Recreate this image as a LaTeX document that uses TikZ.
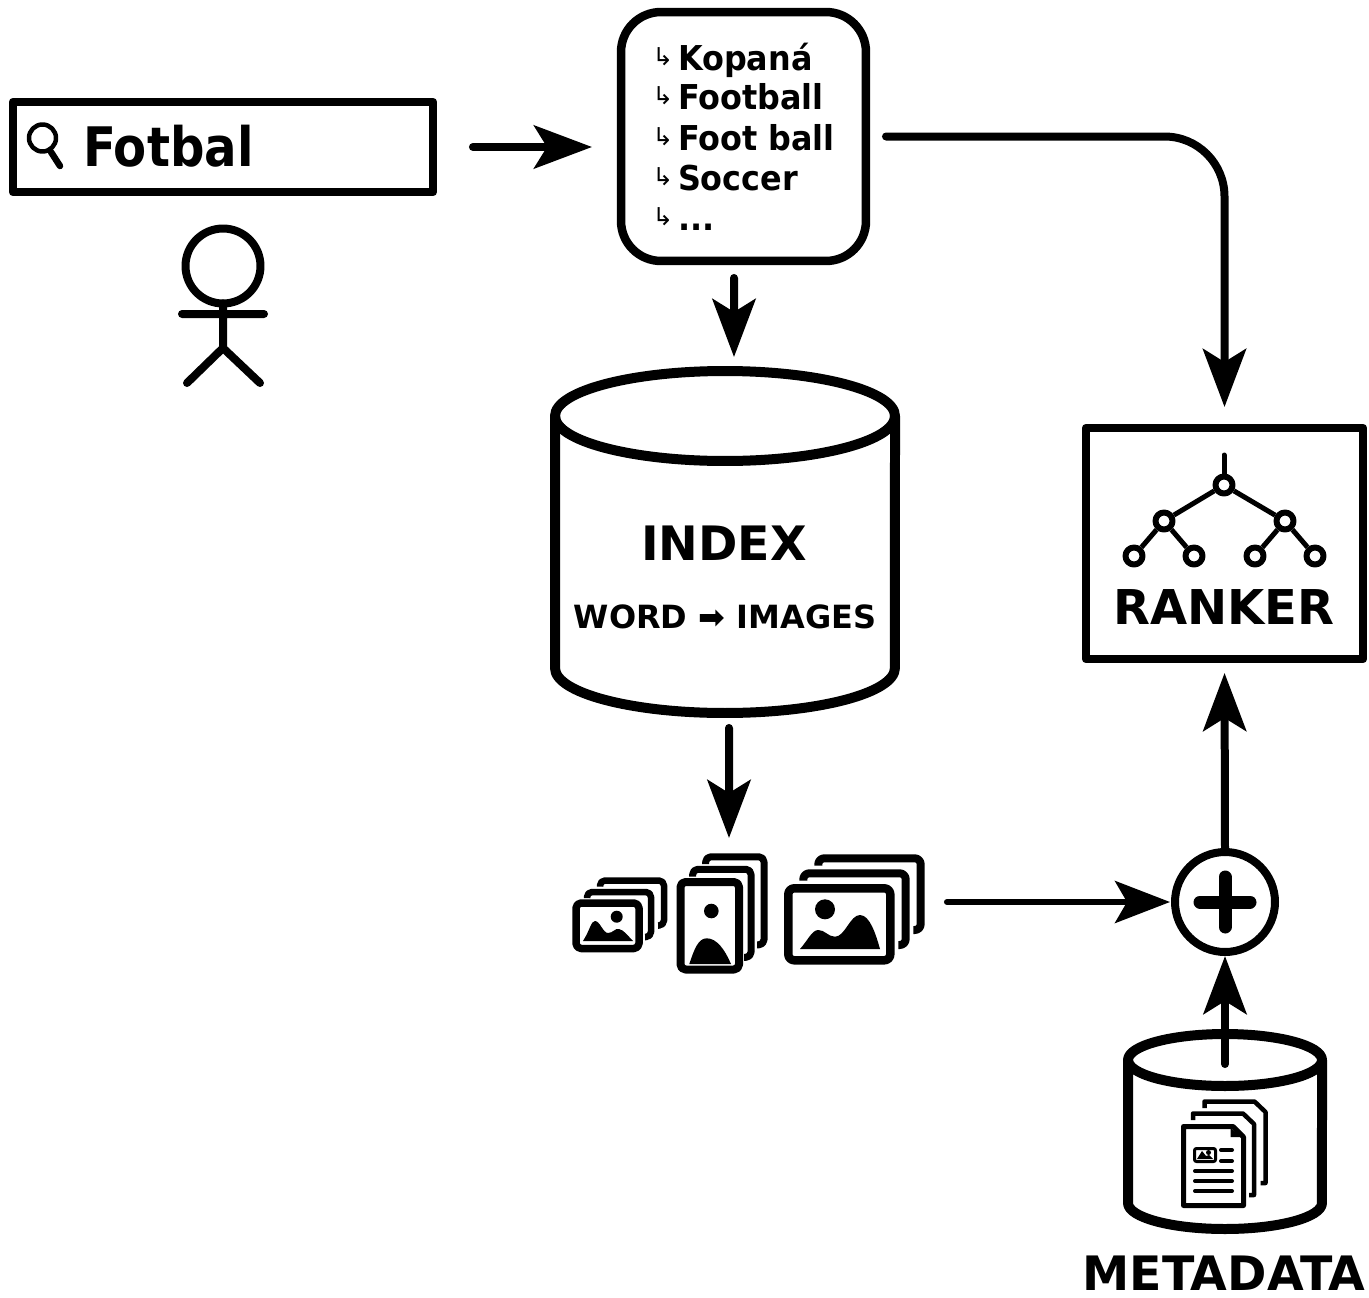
\documentclass[tikz,border=0pt]{standalone}
\usepackage{fontspec}
\setmainfont{DejaVu Sans}
\newfontfamily\queryfont[FakeStretch=.885]{DejaVu Sans}
\newfontfamily\termfont[FakeStretch=.93]{DejaVu Sans}
\usetikzlibrary{arrows.meta}
\newcommand{\textsize}[1]{\fontsize{#1}{#1}\selectfont\bfseries}
\newcommand{\moreterms}{...}

\begin{document}
\begin{tikzpicture}[x=.02cm,y=-.02cm,line join=round,
    box/.style={draw,line width=.17cm,outer sep=0pt,inner sep=0pt},
    hollow/.style={outer sep=0pt,inner sep=0pt},
    drum/.style={line width=.2cm},
    flow/.style={line width=.16cm,line cap=round,-{Stealth[length=1.16cm,width=.86cm,inset=.26cm]}},
    thinflow/.style={line width=.12cm,line cap=round,-{Stealth[length=1.1cm,width=.84cm,inset=.24cm]}},
    word/.style={anchor=base west,inner sep=0pt,outer sep=0pt},
    title/.style={anchor=base,inner sep=0pt,outer sep=0pt},
    leaf/.style={circle,draw,line width=.12cm,minimum size=.34cm,inner sep=0pt,fill=white}]
  \useasboundingbox (0,0) rectangle (1369,1298);

  % Draw search box
  \node[box,minimum width=8.4cm,minimum height=1.8cm] (searchbox) at (223,147) {};
  \node[word] (query) at (83,166) {\queryfont\textsize{31}Fotbal};
  \draw[line width=.09cm] (42.5,138) circle (.27cm);
  \draw[line width=.13cm,line cap=round] (51,152) -- (60,166);

  % Draw user
  \node[circle,draw,line width=.16cm,minimum size=1.5cm,inner sep=0pt,outer sep=0pt] (head) at (223,266) {};
  \coordinate (hip) at (223,348);
  \draw[line width=.16cm,line cap=round] (head.south) -- (hip) (182,314) -- (264,314)
    (187,383) -- (hip) -- (260,383);

  % Draw query variants
  \node[box,minimum width=4.9cm,minimum height=4.98cm,rounded corners=.8cm] (variants) at (743.5,136.5) {};
  \foreach \y/\term/\name in {70/Kopaná/kopana,109/Football/football,150/Foot ball/footsplit,190/Soccer/soccer,230/\moreterms/more} {
    \node[word] (\name) at (678,\y) {\termfont\textsize{19.5}\term};
    \node[anchor=base,inner sep=0pt] (hook\name) at (663,\y-5) {\fontsize{14}{14}\selectfont ↳};
  }

  % Draw index
  \node[hollow,minimum width=6.96cm,minimum height=6.96cm] (index) at (725,544) {};
  \draw[drum] (725,416) ellipse [x radius=3.4cm,y radius=.9cm];
  \draw[drum] (555,416) -- (555,668) arc[start angle=180,end angle=360,x radius=3.4cm,y radius=.9cm] -- (895,416);
  \node[title] (indextitle) at (724,560) {\textsize{27}INDEX};
  \node[title] (indexmap) at (725,628) {\textsize{18.2}WORD ➡ IMAGES};

  % Draw ranker
  \node[box,minimum width=5.54cm,minimum height=4.62cm] (ranker) at (1224.5,543.5) {};
  \node[title] (rankertitle) at (1224,624) {\textsize{27.3}RANKER};
  \node[leaf] (root) at (1224,485) {};
  \node[leaf] (midl) at (1164,521) {};
  \node[leaf] (midr) at (1285,521) {};
  \node[leaf] (leafa) at (1134,556) {};
  \node[leaf] (leafb) at (1194,556) {};
  \node[leaf] (leafc) at (1255,556) {};
  \node[leaf] (leafd) at (1315,556) {};
  \coordinate (stem) at (1224,455);
  \draw[line width=.1cm,line cap=round] (root) -- (stem);
  \draw[line width=.1cm] (root) -- (midl) (root) -- (midr) (midl) -- (leafa) (midl) -- (leafb)
    (midr) -- (leafc) (midr) -- (leafd);

  % Draw images
  \node[hollow,minimum width=7.02cm,minimum height=2.4cm] (images) at (748.5,913) {};
  \draw[line width=.15cm,rounded corners=.1cm] (576,903) rectangle (639,948.5);
  \foreach \dx/\dy in {0/0,13/-11.5}
    \draw[line width=.13cm,rounded corners=.1cm,shift={(\dx,\dy)}] (587,898) -- (587,892) -- (651,892) -- (651,937) -- (645,937);
  \fill (616.7,916.7) circle (.12cm);
  \fill (583,941) .. controls (590,930) and (591,921) .. (595,921) .. controls (600,921) and (603,933) .. (608,933) .. controls (613,933) and (615,928) .. (619,929) .. controls (624,930) and (628,936) .. (633,941) -- cycle;

  \draw[line width=.16cm,rounded corners=.1cm] (680.5,882) rectangle (739,969.5);
  \foreach \dx/\dy in {0/0,13/-12.5}
    \draw[line width=.14cm,rounded corners=.1cm,shift={(\dx,\dy)}] (692.7,876.7) -- (692.7,869.3) -- (751,869.3) -- (751,957.3) -- (744,957.3);
  \fill (711.3,911) circle (.146cm);
  \fill (689.3,964) .. controls (694,950) and (698,938.3) .. (706.7,938.3) .. controls (717,938.3) and (725,950) .. (731,964) -- cycle;

  \draw[line width=.17cm,rounded corners=.12cm] (788.3,888.3) rectangle (890.3,960.3);
  \foreach \dx/\dy in {0/0,15/-15}
    \draw[line width=.16cm,rounded corners=.12cm,shift={(\dx,\dy)}] (803.3,880.7) -- (803.3,873.3) -- (905.7,873.3) -- (905.7,945) -- (898.3,945);
  \fill (825,909.3) circle (.2cm);
  \fill (800,949) .. controls (808,940) and (812,930) .. (818.3,930) .. controls (825,930) and (828,936.7) .. (835,936.7) .. controls (845,936.7) and (850,915) .. (860,915) .. controls (870,915) and (876,935) .. (880,949) -- cycle;

  % Draw sum
  \node[circle,draw,line width=.16cm,minimum size=2cm,inner sep=0pt,outer sep=0pt] (sum) at (1225,902) {};
  \draw[line width=.26cm,line cap=round] (1200,902) -- (1250,902) (1225,877) -- (1225,927);

  % Draw metadata
  \node[hollow,minimum width=4.06cm,minimum height=4.04cm] (metadata) at (1225,1132) {};
  \draw[drum] (1225,1060) ellipse [x radius=1.94cm,y radius=.52cm];
  \draw[drum] (1128,1060) -- (1128,1203) arc[start angle=180,end angle=360,x radius=1.94cm,y radius=.52cm] -- (1322,1060);
  \node[title] (metadatatitle) at (1224,1290) {\textsize{27}METADATA};
  \foreach \dx/\dy in {0/0,11.5/-12}
    \draw[line width=.09cm,shift={(\dx,\dy)}] (1193,1120) -- (1193,1113.5) -- (1243,1113.5) -- (1254,1124) -- (1254,1195) -- (1249,1195);
  \draw[line width=.1cm] (1183.5,1126.5) -- (1233,1126.5) -- (1243.5,1137) -- (1243.5,1205.5) -- (1183.5,1205.5) -- cycle;
  \fill (1230.5,1128) -- (1230.5,1137) -- (1242,1137) -- cycle;
  \draw[line width=.06cm,rounded corners=.04cm] (1194.5,1148.5) rectangle (1215.5,1161.5);
  \fill (1197,1159) -- (1202,1151) -- (1206,1156) -- (1209,1155) -- (1213,1159) -- cycle;
  \fill (1208.5,1152.5) circle (.05cm);
  \draw[line width=.08cm,line cap=round] (1221,1150) -- (1232,1150) (1221,1161) -- (1232,1161)
    (1195,1171) -- (1232,1171) (1195,1181) -- (1232,1181) (1195,1191) -- (1232,1191);

  % Draw connectors
  \draw[flow,shorten <=.8cm,shorten >=.58cm] (searchbox.east) -- (searchbox.east -| variants.west);
  \draw[flow,shorten <=.4cm,shorten >=.42cm,rounded corners=1.2cm] (variants.east) -| (ranker.north);
  \draw[flow,shorten <=.34cm,shorten >=.26cm] ([xshift=-.19cm]variants.south) -- ([xshift=.18cm]index.north);
  \draw[flow,shorten <=.2cm,shorten >=.3cm] ([xshift=.08cm]index.south) -- ([xshift=-.39cm]images.north);
  \draw[thinflow,shorten <=.46cm,shorten >=.1cm] (images.east |- sum.west) -- (sum.west);
  \draw[flow,shorten >=.28cm] (sum.north) -- (ranker.south);
  \draw[flow,shorten <=1.36cm,shorten >=.08cm] (metadata.center) -- (sum.south);
\end{tikzpicture}
\end{document}
